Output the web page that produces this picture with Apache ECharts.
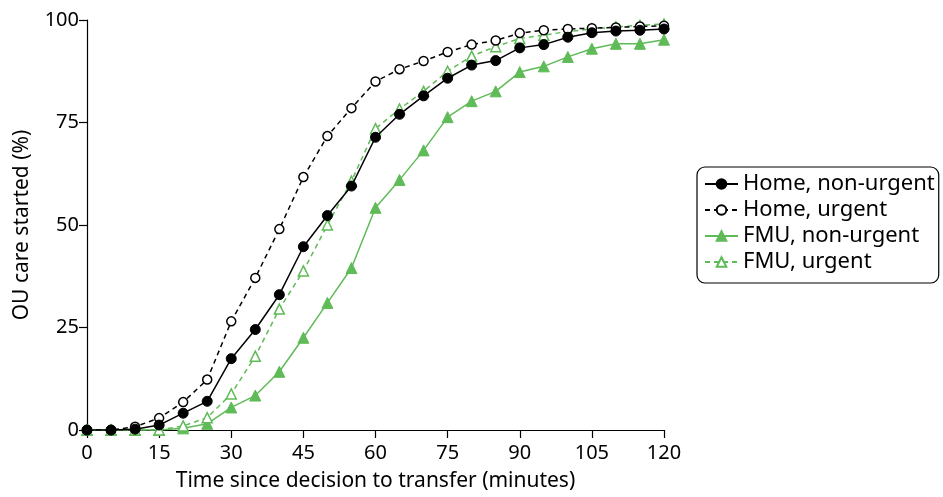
<!DOCTYPE html>
<html>
<head>
<meta charset="utf-8">
<script src="https://cdn.jsdelivr.net/npm/echarts@6/dist/echarts.min.js"></script>
<style>html,body{margin:0;padding:0;background:#fff}#c{width:943px;height:497px}</style>
</head>
<body>
<div id="c"></div>
<script>
const minutes = [0,5,10,15,20,25,30,35,40,45,50,55,60,65,70,75,80,85,90,95,100,105,110,115,120];
const homeNonUrgent = [0,0,0.2,1.2,4.1,7,17.4,24.5,33,44.7,52.3,59.5,71.4,77,81.5,85.8,89,90.1,93.2,94,95.8,96.9,97.3,97.5,97.8];
const homeUrgent = [0,0,0.8,2.9,6.8,12.3,26.5,37.1,49,61.7,71.7,78.5,85,88,90,92.2,94,95,96.8,97.5,97.8,98,98.2,98.4,98.6];
const fmuNonUrgent = [0,0,0,0,0.4,1.5,5.5,8.4,14.2,22.5,31,39.5,54.2,61,68.2,76.3,80.2,82.6,87.3,88.7,91,93,94.2,94.2,95.2];
const fmuUrgent = [0,0,0,0,1,3,8.8,18,29.5,38.8,50,60.7,73.5,78.3,82.6,87.5,91.2,93.5,95.5,96.3,97.2,97.8,98.3,98.7,99];
const xTicks = [0,15,30,45,60,75,90,105,120];
const yTicks = [0,25,50,75,100];
const seriesNames = ['Home, non-urgent','Home, urgent','FMU, non-urgent','FMU, urgent'];

const green = '#5fbb57';
const font = 'Noto Sans';
const pairs = d => minutes.map((m,i)=>[m,d[i]]);

const chart = echarts.init(document.getElementById('c'), null, {renderer:'canvas'});
chart.setOption({
  animation:false,
  textStyle:{fontFamily:font},
  grid:{left:87,right:279,top:20,bottom:65,containLabel:false},
  legend:{
    orient:'vertical', left:697, top:167,
    data:seriesNames,
    borderColor:'#000', borderWidth:1.2, borderRadius:8,
    padding:[6,4,10,7],
    itemWidth:33, itemHeight:12, itemGap:4,
    textStyle:{fontSize:22,color:'#000',fontFamily:font}
  },
  xAxis:{
    type:'value', min:0, max:120, interval:15,
    name:'Time since decision to transfer (minutes)', nameLocation:'middle', nameGap:41,
    nameTextStyle:{fontSize:21,color:'#000',fontFamily:font},
    axisLine:{lineStyle:{color:'#000',width:1.2}},
    axisTick:{show:true,length:8,lineStyle:{color:'#000',width:1.2}},
    axisLabel:{fontSize:20,color:'#000',margin:13,fontFamily:font,
      formatter:v=>xTicks.includes(v)?String(v):''},
    splitLine:{show:false}
  },
  yAxis:{
    type:'value', min:0, max:100, interval:25,
    name:'OU care started (%)', nameLocation:'middle', nameGap:54,
    nameTextStyle:{fontSize:21,color:'#000',fontFamily:font},
    axisLine:{show:true,lineStyle:{color:'#000',width:1.2}},
    axisTick:{show:true,length:8,lineStyle:{color:'#000',width:1.2}},
    axisLabel:{fontSize:20,color:'#000',margin:8,fontFamily:font,
      formatter:v=>yTicks.includes(v)?String(v):''},
    splitLine:{show:false}
  },
  series:[
    {name:seriesNames[0],type:'line',data:pairs(homeNonUrgent),z:4,
     symbol:'circle',symbolSize:10,
     lineStyle:{color:'#000',width:1.5,type:'solid'},
     itemStyle:{color:'#000',borderColor:'#000',borderWidth:1}},
    {name:seriesNames[1],type:'line',data:pairs(homeUrgent),z:3,
     symbol:'circle',symbolSize:9,
     lineStyle:{color:'#000',width:1.5,type:[5,4]},
     itemStyle:{color:'#fff',borderColor:'#000',borderWidth:1.5}},
    {name:seriesNames[2],type:'line',data:pairs(fmuNonUrgent),z:2,
     symbol:'triangle',symbolSize:11,
     lineStyle:{color:green,width:1.5,type:'solid'},
     itemStyle:{color:green,borderColor:green,borderWidth:1}},
    {name:seriesNames[3],type:'line',data:pairs(fmuUrgent),z:2,
     symbol:'triangle',symbolSize:10,
     lineStyle:{color:green,width:1.5,type:[5,4]},
     itemStyle:{color:'#fff',borderColor:green,borderWidth:1.5}}
  ]
});
</script>
</body>
</html>
